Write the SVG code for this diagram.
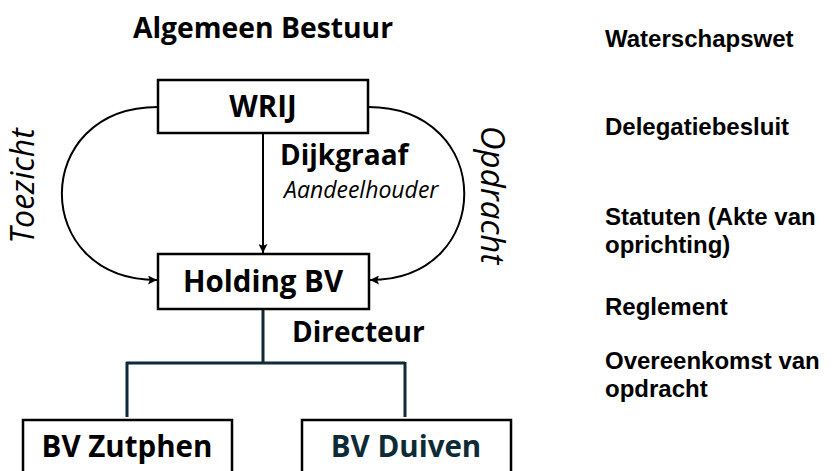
<svg xmlns="http://www.w3.org/2000/svg" width="837" height="471" viewBox="0 0 837 471">
<style>
.box{fill:#fff;stroke:#000;stroke-width:2.5}
.lbl{font-family:"Open Sans","Noto Sans",sans-serif;font-weight:bold;font-size:29.5px;fill:#000;text-anchor:middle}
.edge{font-family:"Open Sans","Noto Sans",sans-serif;font-weight:bold;font-size:28px;fill:#000}
.ital{font-family:"Open Sans","Noto Sans",sans-serif;font-style:italic;fill:#000}
.side{font-family:"Liberation Sans",Arial,sans-serif;font-weight:bold;font-size:24px;fill:#000}
.conn{fill:none;stroke:#000;stroke-width:2}
.tree{fill:none;stroke:#0d2b36;stroke-width:3}
</style>
<defs>
<marker id="arr" viewBox="0 0 10 10" refX="10" refY="5" markerWidth="10" markerHeight="9" markerUnits="userSpaceOnUse" orient="auto">
<path d="M0,0 L10,5 L0,10 L2,5 Z" fill="#000"/>
</marker>
</defs>
<text class="lbl" x="263" y="38" style="font-size:28.3px">Algemeen Bestuur</text>
<g id="connectors">
<path class="conn" d="M263,133 L263,253" marker-end="url(#arr)"/>
<path class="conn" d="M158,107 C30,107 30,280 157,280" marker-end="url(#arr)"/>
<path class="conn" d="M368,107 C496,107 496,280 370,280" marker-end="url(#arr)"/>
<path class="tree" d="M263,309 L263,363 M126,363 L405,363 M127,362 L127,417 M405,362 L405,417"/>
<text class="edge" x="280" y="165">Dijkgraaf</text>
<text class="ital" x="284" y="198" font-size="23">Aandeelhouder</text>
<text class="edge" x="292" y="342">Directeur</text>
<text class="ital" font-size="32" text-anchor="middle" transform="translate(34,186) rotate(-90)">Toezicht</text>
<text class="ital" font-size="33" text-anchor="middle" transform="translate(481,195) rotate(90)">Opdracht</text>
</g>
<g id="wrij">
<rect class="box" x="158" y="80" width="210" height="53"/>
<text class="lbl" x="263" y="117">WRIJ</text>
</g>
<g id="holding">
<rect class="box" x="158" y="254" width="211" height="55"/>
<text class="lbl" x="263" y="292">Holding BV</text>
</g>
<g id="zutphen">
<rect class="box" x="23" y="420" width="209" height="60"/>
<text class="lbl" x="127" y="457">BV Zutphen</text>
</g>
<g id="duiven">
<rect class="box" x="302" y="420" width="209" height="60"/>
<text class="lbl" x="406" y="457" style="fill:#0d2b36">BV Duiven</text>
</g>
<g id="legend">
<text class="side" x="605" y="47">Waterschapswet</text>
<text class="side" x="605" y="135">Delegatiebesluit</text>
<text class="side" x="605" y="225">Statuten (Akte van</text>
<text class="side" x="605" y="253">oprichting)</text>
<text class="side" x="605" y="315">Reglement</text>
<text class="side" x="605" y="369">Overeenkomst van</text>
<text class="side" x="605" y="397">opdracht</text>
</g>
</svg>
